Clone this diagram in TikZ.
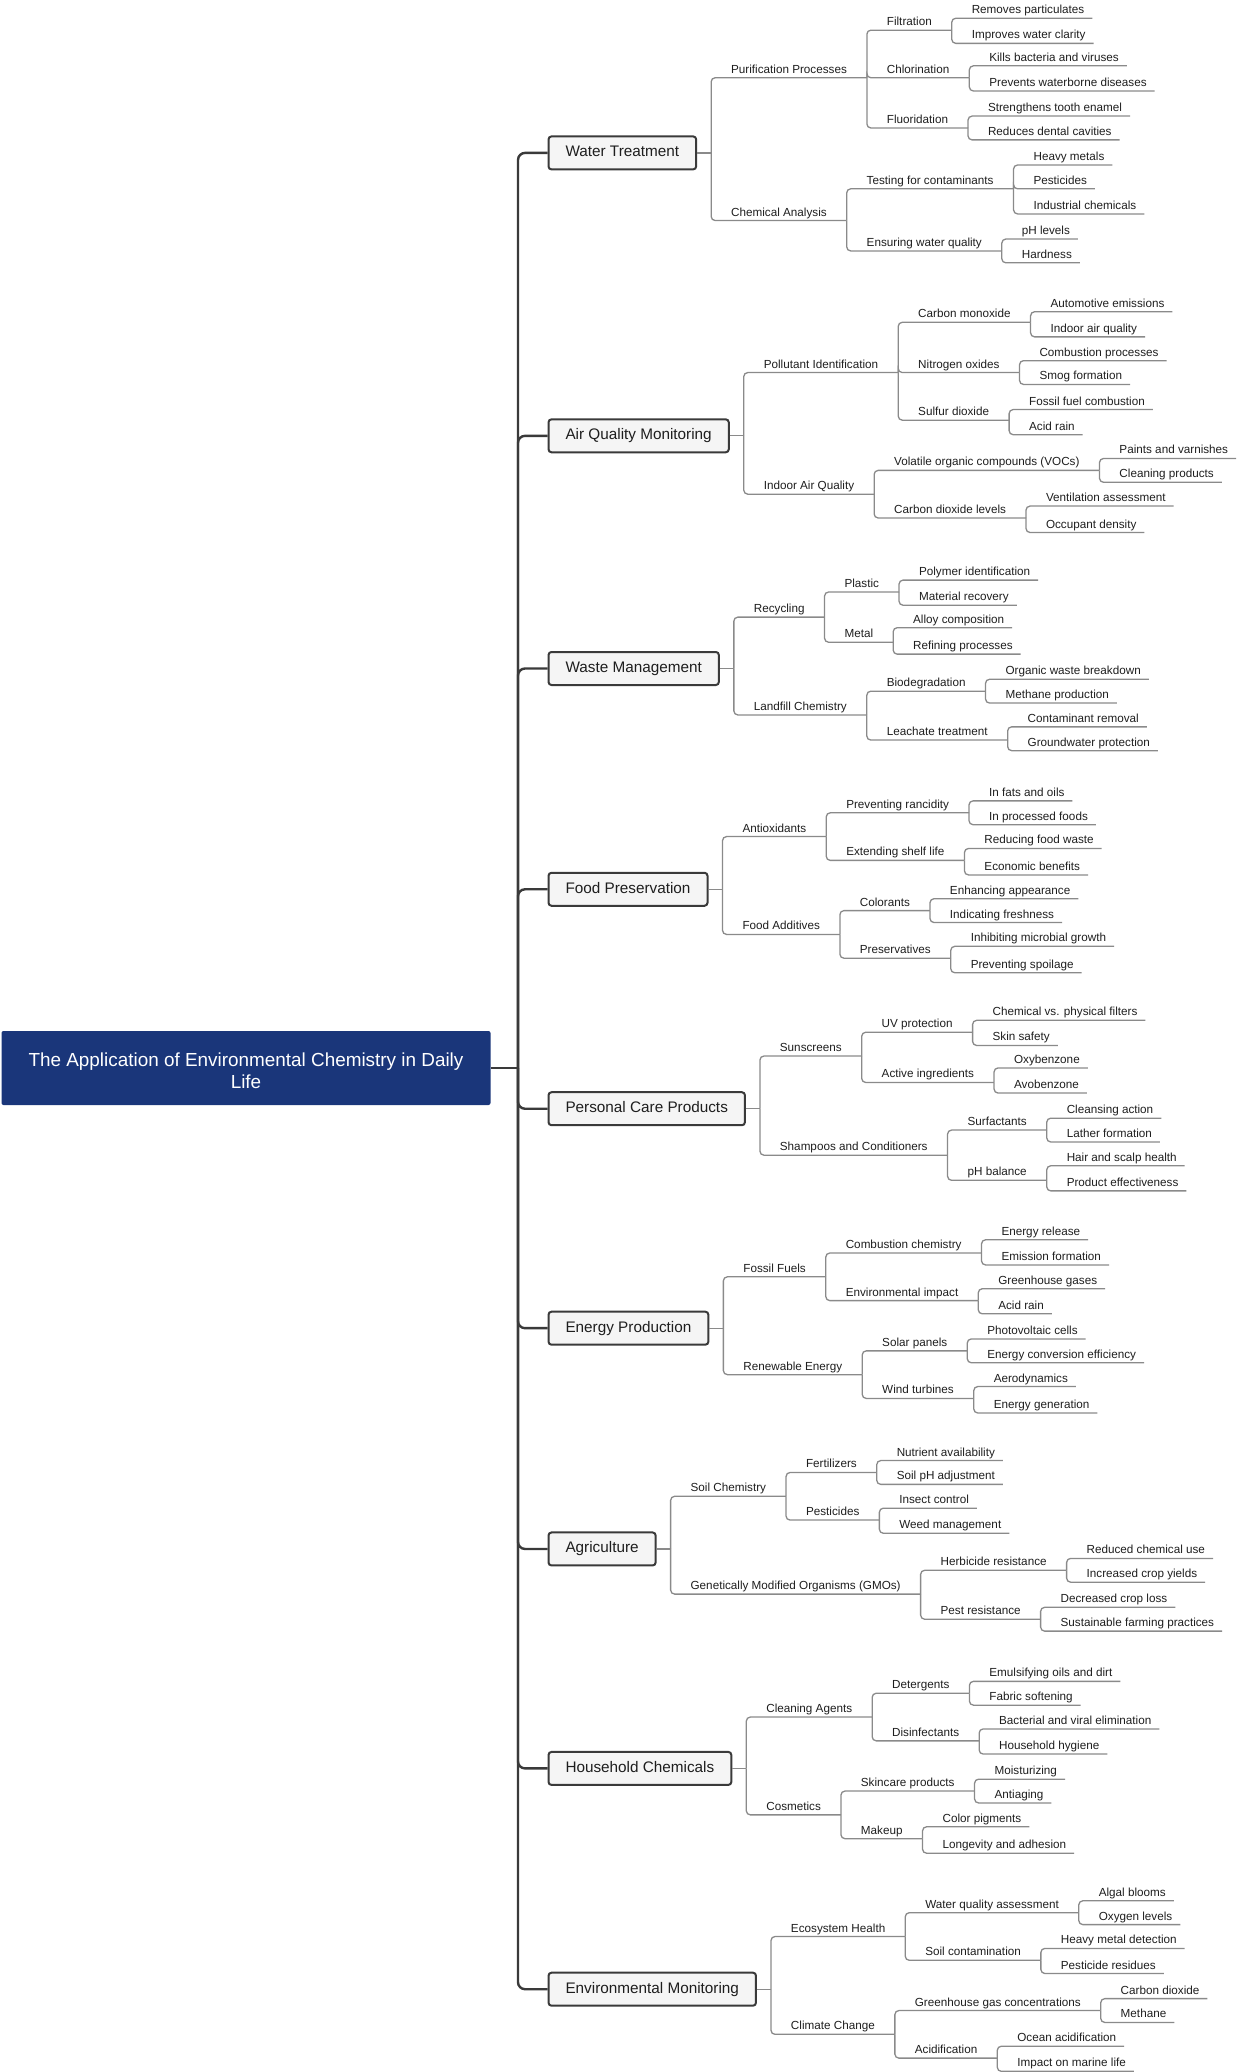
\documentclass[tikz,border=0pt]{standalone}
\usepackage{fontspec}
\setmainfont{Liberation Sans}
\usetikzlibrary{calc}
\definecolor{rootblue}{HTML}{1A367A}
\definecolor{linegray}{HTML}{8A8A8A}
\definecolor{trunkgray}{HTML}{3A3A3A}
\definecolor{txt}{HTML}{1E1E1E}
\definecolor{boxfill}{HTML}{F5F5F5}
\newcommand\SF{1.322}
\tikzset{
  lbl/.style={inner sep=0pt, outer sep=0pt, anchor=south west, text height=9pt, text depth=4.5pt, font=\fontsize{11.7}{14}\selectfont, text=txt},
  conn/.style={draw=linegray, line width=1.3pt, rounded corners=4pt},
  trunk/.style={draw=trunkgray, line width=2.4pt, rounded corners=7pt},
  catbox/.style={draw=trunkgray, line width=2pt, fill=boxfill, rounded corners=3pt, inner xsep=17pt, inner ysep=2pt, text height=11pt, text depth=3pt, minimum height=33pt, anchor=west, font=\fontsize{15.3}{18}\selectfont, text=txt},
  rootbox/.style={fill=rootblue, rounded corners=2pt, anchor=west, minimum width=489pt, minimum height=74pt},
  roottxt/.style={align=center, text=white, inner sep=0pt, font=\fontsize{18.9}{22.5}\selectfont},
  dot/.style={inner sep=0pt, outer sep=0pt, minimum size=0pt}
}
% \sub{name}{parent}{y in shrunk px}{text}
\newcommand\sub[4]{%
  \path let \p1=(#2.south east) in node[lbl] (#1) at (\x1,{-(#3*\SF+9)*1pt}) {\hspace*{20pt}#4\hspace*{20pt}};
  \draw[conn] (#2.south east) |- (#1.south east);}
\newcommand\leaf[4]{%
  \path let \p1=(#2.south east) in node[lbl] (#1) at (\x1,{-(#3*\SF+9)*1pt}) {\hspace*{20pt}#4\hspace*{8pt}};
  \draw[conn] (#2.south east) |- (#1.south east);}
\newcommand\cat[3]{%
  \node[catbox] (#1) at (547.5pt,{-(#2*\SF+2.2)*1pt}) {#3};
  \node[dot] (#1x) at ([xshift=14pt]#1.east) {};
  \draw[conn] (#1.east) -- (#1x);
  \draw[trunk] (T) |- (#1.west);}
\begin{document}
\begin{tikzpicture}[x=1pt,y=1pt]
\useasboundingbox (0,0) rectangle (1240,-2072);
\node[rootbox] (root) at (1.3pt,-1068pt) {};
\node[roottxt] (roottext) at ([yshift=-2.6pt]root.center) {The Application of Environmental Chemistry in Daily\\Life};
\node[dot] (T) at (518pt,-1068pt) {};
\draw[trunkgray, line width=2.4pt] (root.east) -- (T);

% Water Treatment
\cat{wt}{114}{Water Treatment}
\sub{wt1}{wtx}{52}{Purification Processes}
\sub{wt11}{wt1}{16}{Filtration}
\leaf{wt111}{wt11}{7}{Removes particulates}
\leaf{wt112}{wt11}{26}{Improves water clarity}
\sub{wt12}{wt1}{52}{Chlorination}
\leaf{wt121}{wt12}{43}{Kills bacteria and viruses}
\leaf{wt122}{wt12}{62}{Prevents waterborne diseases}
\sub{wt13}{wt1}{90}{Fluoridation}
\leaf{wt131}{wt13}{81}{Strengthens tooth enamel}
\leaf{wt132}{wt13}{99}{Reduces dental cavities}
\sub{wt2}{wtx}{160}{Chemical Analysis}
\sub{wt21}{wt2}{136}{Testing for contaminants}
\leaf{wt211}{wt21}{118}{Heavy metals}
\leaf{wt212}{wt21}{136}{Pesticides}
\leaf{wt213}{wt21}{155}{Industrial chemicals}
\sub{wt22}{wt2}{183}{Ensuring water quality}
\leaf{wt221}{wt22}{174}{pH levels}
\leaf{wt222}{wt22}{192}{Hardness}

% Air Quality Monitoring
\cat{aq}{328}{Air Quality Monitoring}
\sub{aq1}{aqx}{275}{Pollutant Identification}
\sub{aq11}{aq1}{237}{Carbon monoxide}
\leaf{aq111}{aq11}{229}{Automotive emissions}
\leaf{aq112}{aq11}{248}{Indoor air quality}
\sub{aq12}{aq1}{275}{Nitrogen oxides}
\leaf{aq121}{aq12}{266}{Combustion processes}
\leaf{aq122}{aq12}{284}{Smog formation}
\sub{aq13}{aq1}{311}{Sulfur dioxide}
\leaf{aq131}{aq13}{303}{Fossil fuel combustion}
\leaf{aq132}{aq13}{322}{Acid rain}
\sub{aq2}{aqx}{367}{Indoor Air Quality}
\sub{aq21}{aq2}{349}{Volatile organic compounds (VOCs)}
\leaf{aq211}{aq21}{340}{Paints and varnishes}
\leaf{aq212}{aq21}{358}{Cleaning products}
\sub{aq22}{aq2}{385}{Carbon dioxide levels}
\leaf{aq221}{aq22}{376}{Ventilation assessment}
\leaf{aq222}{aq22}{396}{Occupant density}

% Waste Management
\cat{wm}{504}{Waste Management}
\sub{wm1}{wmx}{460}{Recycling}
\sub{wm11}{wm1}{441}{Plastic}
\leaf{wm111}{wm11}{432}{Polymer identification}
\leaf{wm112}{wm11}{451}{Material recovery}
\sub{wm12}{wm1}{479}{Metal}
\leaf{wm121}{wm12}{468}{Alloy composition}
\leaf{wm122}{wm12}{488}{Refining processes}
\sub{wm2}{wmx}{534}{Landfill Chemistry}
\sub{wm21}{wm2}{516}{Biodegradation}
\leaf{wm211}{wm21}{507}{Organic waste breakdown}
\leaf{wm212}{wm21}{525}{Methane production}
\sub{wm22}{wm2}{553}{Leachate treatment}
\leaf{wm221}{wm22}{543}{Contaminant removal}
\leaf{wm222}{wm22}{561}{Groundwater protection}

% Food Preservation
\cat{fp}{671}{Food Preservation}
\sub{fp1}{fpx}{626}{Antioxidants}
\sub{fp11}{fp1}{608}{Preventing rancidity}
\leaf{fp111}{fp11}{599}{In fats and oils}
\leaf{fp112}{fp11}{617}{In processed foods}
\sub{fp12}{fp1}{644}{Extending shelf life}
\leaf{fp121}{fp12}{635}{Reducing food waste}
\leaf{fp122}{fp12}{655}{Economic benefits}
\sub{fp2}{fpx}{700}{Food Additives}
\sub{fp21}{fp2}{682}{Colorants}
\leaf{fp211}{fp21}{673}{Enhancing appearance}
\leaf{fp212}{fp21}{691}{Indicating freshness}
\sub{fp22}{fp2}{718}{Preservatives}
\leaf{fp221}{fp22}{709}{Inhibiting microbial growth}
\leaf{fp222}{fp22}{729}{Preventing spoilage}

% Personal Care Products
\cat{pc}{837}{Personal Care Products}
\sub{pc1}{pcx}{792}{Sunscreens}
\sub{pc11}{pc1}{774}{UV protection}
\leaf{pc111}{pc11}{765}{Chemical vs. physical filters}
\leaf{pc112}{pc11}{784}{Skin safety}
\sub{pc12}{pc1}{812}{Active ingredients}
\leaf{pc121}{pc12}{801}{Oxybenzone}
\leaf{pc122}{pc12}{820}{Avobenzone}
\sub{pc2}{pcx}{867}{Shampoos and Conditioners}
\sub{pc21}{pc2}{848}{Surfactants}
\leaf{pc211}{pc21}{839}{Cleansing action}
\leaf{pc212}{pc21}{857}{Lather formation}
\sub{pc22}{pc2}{886}{pH balance}
\leaf{pc221}{pc22}{875}{Hair and scalp health}
\leaf{pc222}{pc22}{894}{Product effectiveness}

% Energy Production
\cat{ep}{1003}{Energy Production}
\sub{ep1}{epx}{959}{Fossil Fuels}
\sub{ep11}{ep1}{941}{Combustion chemistry}
\leaf{ep111}{ep11}{931}{Energy release}
\leaf{ep112}{ep11}{950}{Emission formation}
\sub{ep12}{ep1}{977}{Environmental impact}
\leaf{ep121}{ep12}{968}{Greenhouse gases}
\leaf{ep122}{ep12}{987}{Acid rain}
\sub{ep2}{epx}{1033}{Renewable Energy}
\sub{ep21}{ep2}{1015}{Solar panels}
\leaf{ep211}{ep21}{1006}{Photovoltaic cells}
\leaf{ep212}{ep21}{1024}{Energy conversion efficiency}
\sub{ep22}{ep2}{1051}{Wind turbines}
\leaf{ep221}{ep22}{1042}{Aerodynamics}
\leaf{ep222}{ep22}{1062}{Energy generation}

% Agriculture
\cat{ag}{1170}{Agriculture}
\sub{ag1}{agx}{1125}{Soil Chemistry}
\sub{ag11}{ag1}{1107}{Fertilizers}
\leaf{ag111}{ag11}{1098}{Nutrient availability}
\leaf{ag112}{ag11}{1116}{Soil pH adjustment}
\sub{ag12}{ag1}{1143}{Pesticides}
\leaf{ag121}{ag12}{1134}{Insect control}
\leaf{ag122}{ag12}{1153}{Weed management}
\sub{ag2}{agx}{1199}{Genetically Modified Organisms (GMOs)}
\sub{ag21}{ag2}{1181}{Herbicide resistance}
\leaf{ag211}{ag21}{1172}{Reduced chemical use}
\leaf{ag212}{ag21}{1190}{Increased crop yields}
\sub{ag22}{ag2}{1218}{Pest resistance}
\leaf{ag221}{ag22}{1209}{Decreased crop loss}
\leaf{ag222}{ag22}{1227}{Sustainable farming practices}

% Household Chemicals
\cat{hc}{1336}{Household Chemicals}
\sub{hc1}{hcx}{1292}{Cleaning Agents}
\sub{hc11}{hc1}{1274}{Detergents}
\leaf{hc111}{hc11}{1265}{Emulsifying oils and dirt}
\leaf{hc112}{hc11}{1283}{Fabric softening}
\sub{hc12}{hc1}{1310}{Disinfectants}
\leaf{hc121}{hc12}{1301}{Bacterial and viral elimination}
\leaf{hc122}{hc12}{1320}{Household hygiene}
\sub{hc2}{hcx}{1366}{Cosmetics}
\sub{hc21}{hc2}{1348}{Skincare products}
\leaf{hc211}{hc21}{1339}{Moisturizing}
\leaf{hc212}{hc21}{1357}{Antiaging}
\sub{hc22}{hc2}{1384}{Makeup}
\leaf{hc221}{hc22}{1375}{Color pigments}
\leaf{hc222}{hc22}{1395}{Longevity and adhesion}

% Environmental Monitoring
\cat{em}{1503}{Environmental Monitoring}
\sub{em1}{emx}{1458}{Ecosystem Health}
\sub{em11}{em1}{1440}{Water quality assessment}
\leaf{em111}{em11}{1431}{Algal blooms}
\leaf{em112}{em11}{1449}{Oxygen levels}
\sub{em12}{em1}{1476}{Soil contamination}
\leaf{em121}{em12}{1467}{Heavy metal detection}
\leaf{em122}{em12}{1486}{Pesticide residues}
\sub{em2}{emx}{1532}{Climate Change}
\sub{em21}{em2}{1514}{Greenhouse gas concentrations}
\leaf{em211}{em21}{1505}{Carbon dioxide}
\leaf{em212}{em21}{1523}{Methane}
\sub{em22}{em2}{1550}{Acidification}
\leaf{em221}{em22}{1541}{Ocean acidification}
\leaf{em222}{em22}{1560}{Impact on marine life}
\end{tikzpicture}
\end{document}
